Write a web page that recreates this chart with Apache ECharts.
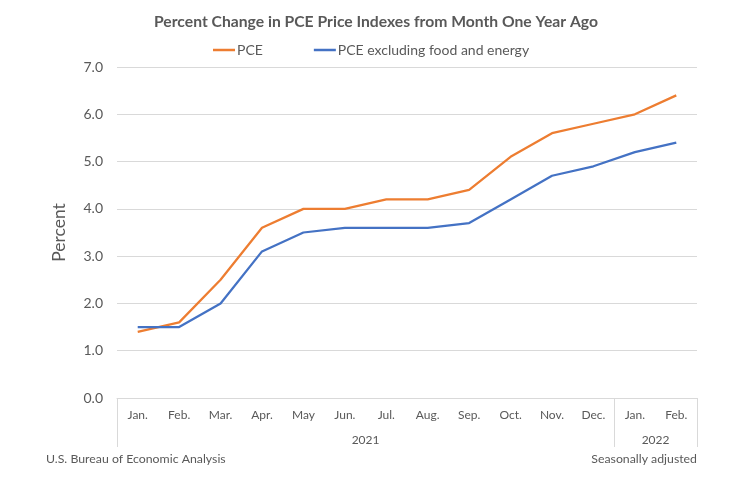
<!DOCTYPE html>
<html><head><meta charset="utf-8">
<script src="https://cdn.jsdelivr.net/npm/echarts@6/dist/echarts.min.js"></script>
<style>html,body{margin:0;padding:0;background:#fff}#c{width:752px;height:483px}</style>
</head><body><div id="c"></div>
<script>
const months = ['Jan.','Feb.','Mar.','Apr.','May','Jun.','Jul.','Aug.','Sep.','Oct.','Nov.','Dec.','Jan.','Feb.'];
const years = ['2021','2022'];
const yearSpans = [12, 2];
const pce = [1.4,1.6,2.5,3.6,4.0,4.0,4.2,4.2,4.4,5.1,5.6,5.8,6.0,6.4];
const pceCore = [1.5,1.5,2.0,3.1,3.5,3.6,3.6,3.6,3.7,4.2,4.7,4.9,5.2,5.4];

const bounds = [0]; yearSpans.forEach(s => bounds.push(bounds[bounds.length-1] + s));
const centers = yearSpans.map((s,i) => bounds[i] + s/2);
const FONT = 'Lato, "Open Sans", sans-serif';
const GREY = '#595959';
const chart = echarts.init(document.getElementById('c'));
chart.setOption({
  animation: false,
  textStyle: {fontFamily: FONT},
  title: {text: 'Percent Change in PCE Price Indexes from Month One Year Ago', left: 'center', top: 9,
    textStyle: {fontFamily: FONT, fontSize: 15.7, fontWeight: 'bold', color: GREY}},
  legend: {top: 38, left: 208, itemGap: 51, icon: 'rect', itemWidth: 22, itemHeight: 2.5,
    textStyle: {fontFamily: FONT, fontSize: 14, color: GREY, padding: [0,0,0,-3]}},
  grid: {left: 117, right: 55, top: 67, bottom: 85},
  graphic: [
    {type: 'text', left: 46, top: 453, style: {text: 'U.S. Bureau of Economic Analysis', fontFamily: FONT, fontSize: 12.3, fill: GREY}},
    {type: 'text', right: 55, top: 453, style: {text: 'Seasonally adjusted', fontFamily: FONT, fontSize: 12.3, fill: GREY}}
  ],
  xAxis: [{
    type: 'category', data: months, boundaryGap: true,
    axisLine: {lineStyle: {color: '#d9d9d9'}}, axisTick: {show: false},
    axisLabel: {color: GREY, fontSize: 12, margin: 11, interval: 0}
  }, {
    type: 'value', min: 0, max: bounds[bounds.length-1], position: 'bottom',
    axisLine: {show: false}, splitLine: {show: false},
    axisTick: {show: true, customValues: bounds, length: 49, lineStyle: {color: '#d9d9d9'}},
    axisLabel: {customValues: centers, color: GREY, fontSize: 12, margin: 36,
      formatter: v => years[centers.indexOf(v)]}
  }],
  yAxis: {
    type: 'value', min: 0, max: 7, interval: 1,
    name: 'Percent', nameLocation: 'middle', nameGap: 49, nameRotate: 90,
    nameTextStyle: {fontFamily: FONT, fontSize: 17.5, color: GREY},
    axisLine: {show: false}, axisTick: {show: false},
    axisLabel: {color: GREY, fontSize: 14, margin: 14, formatter: v => v.toFixed(1)},
    splitLine: {lineStyle: {color: '#d9d9d9'}}
  },
  series: [
    {name: 'PCE', type: 'line', data: pce, symbol: 'none', xAxisIndex: 0,
      lineStyle: {color: '#ED7D31', width: 2.25}, itemStyle: {color: '#ED7D31'}},
    {name: 'PCE excluding food and energy', type: 'line', data: pceCore, symbol: 'none', xAxisIndex: 0,
      lineStyle: {color: '#4472C4', width: 2.25}, itemStyle: {color: '#4472C4'}}
  ]
});
</script></body></html>
